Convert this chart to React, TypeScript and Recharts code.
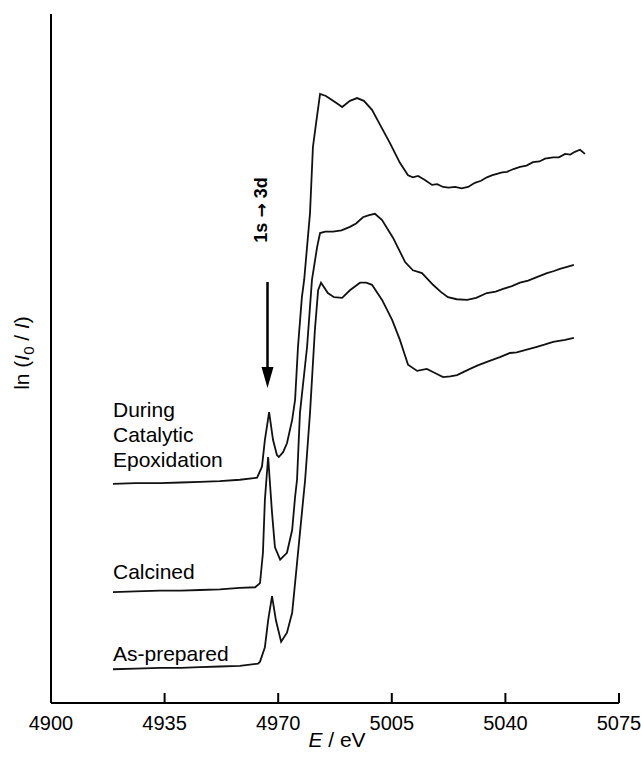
import { LineChart, Line, XAxis, YAxis } from 'recharts';

// [energy (eV), ln(I0/I) offset trace]
const epoxidation: [number, number][] = [
  [4919.1, 3.18], [4926, 3.19], [4933.6, 3.19], [4940, 3.2], [4945.9, 3.21], [4952, 3.22],
  [4958.2, 3.24], [4963.5, 3.27], [4965.0, 3.43], [4965.9, 3.82], [4967.2, 4.22], [4968.4, 3.82],
  [4969.6, 3.6], [4970.2, 3.57], [4971.5, 3.64], [4972.7, 3.77], [4974.3, 4.11], [4975.2, 4.4],
  [4976.1, 5.17], [4977.3, 5.89], [4978.0, 6.14], [4979.8, 7.11], [4980.7, 8.07], [4981.6, 8.39],
  [4982.9, 8.84], [4984.7, 8.81], [4986.9, 8.74], [4988.5, 8.69], [4989.7, 8.65], [4992.1, 8.74],
  [4994.3, 8.78], [4996.4, 8.74], [4998.9, 8.61], [5001.4, 8.39], [5004.4, 8.13], [5007.5, 7.84],
  [5010.0, 7.66], [5011.5, 7.63], [5013.1, 7.65], [5015.2, 7.59], [5017.4, 7.52], [5019, 7.53],
  [5020.8, 7.49], [5022.5, 7.48], [5024.5, 7.49], [5026.5, 7.47], [5028.5, 7.49], [5030.6, 7.55],
  [5032.5, 7.58], [5034.3, 7.63], [5036, 7.66], [5037.4, 7.68], [5039, 7.7], [5040.5, 7.71],
  [5042.5, 7.75], [5044.5, 7.78], [5046.5, 7.8], [5048.5, 7.85], [5050.5, 7.86], [5052.2, 7.9],
  [5054.7, 7.92], [5056.5, 7.92], [5058.4, 7.97], [5060, 7.96], [5061.4, 8.0], [5063.0, 8.03],
  [5064.5, 7.97],
];

const calcined: [number, number][] = [
  [4919.1, 1.61], [4926, 1.62], [4933.6, 1.63], [4940, 1.63], [4945.9, 1.64], [4952, 1.65],
  [4958.2, 1.67], [4962.9, 1.68], [4964.4, 1.74], [4965.3, 2.18], [4965.9, 2.95], [4966.9, 3.57],
  [4968.1, 2.76], [4969.0, 2.26], [4970.6, 2.08], [4972.7, 2.18], [4974.3, 2.51], [4975.2, 2.99],
  [4975.8, 3.24], [4976.7, 4.21], [4978.9, 5.17], [4980.4, 6.14], [4982.0, 6.62], [4982.9, 6.82],
  [4984.5, 6.84], [4986.9, 6.84], [4989.5, 6.86], [4992.1, 6.91], [4994, 6.96], [4996.1, 7.05],
  [4998, 7.08], [4999.8, 7.1], [5002.0, 7.01], [5005.4, 6.75], [5009.1, 6.4], [5011.5, 6.28],
  [5014.3, 6.24], [5017.7, 6.07], [5020, 5.97], [5022.3, 5.89], [5025, 5.86], [5028.2, 5.85],
  [5031, 5.88], [5034.3, 5.95], [5037, 5.97], [5039.3, 6.01], [5042, 6.05], [5044.5, 6.1],
  [5047, 6.13], [5049.1, 6.17], [5052.8, 6.24], [5055, 6.27], [5056.8, 6.3], [5059, 6.33],
  [5061.1, 6.36],
];

const asPrepared: [number, number][] = [
  [4919.1, 0.49], [4926, 0.5], [4933.6, 0.51], [4940, 0.51], [4945.9, 0.52], [4952, 0.53],
  [4958.2, 0.54], [4963.8, 0.57], [4964.4, 0.6], [4965.9, 0.81], [4966.9, 1.2], [4968.1, 1.55],
  [4969.3, 1.2], [4970.9, 0.89], [4972.7, 1.02], [4974.3, 1.31], [4975.8, 2.03], [4977.3, 2.76],
  [4978.3, 3.24], [4979.8, 4.21], [4981.3, 5.41], [4982.3, 5.99], [4983.2, 6.1], [4985.3, 5.95],
  [4987.2, 5.89], [4989.7, 5.88], [4992.1, 5.99], [4995.2, 6.1], [4997.1, 6.1], [4998.9, 6.07],
  [5002.0, 5.85], [5005.1, 5.56], [5007.5, 5.27], [5010.0, 4.91], [5012.8, 4.82], [5015.8, 4.85],
  [5018.3, 4.79], [5020.8, 4.73], [5023, 4.74], [5025.1, 4.76], [5029.1, 4.85], [5031.5, 4.9],
  [5034.3, 4.95], [5038.3, 5.02], [5041.4, 5.08], [5043.5, 5.09], [5046.0, 5.12], [5049.7, 5.17],
  [5052, 5.2], [5054.7, 5.24], [5058.4, 5.27], [5061.1, 5.3],
];

const energyTicks = [4900, 4935, 4970, 5005, 5040, 5075];

const toRows = (pts: [number, number][]) => pts.map(([e, a]) => ({ e, a }));

const FONT = '"Liberation Sans", Arial, sans-serif';
const W = 633;
const H = 741;

function EnergyTick(props: any) {
  const { x, y, payload } = props;
  return (
    <g>
      <line x1={x} y1={y} x2={x} y2={y - 10} stroke="#000" strokeWidth={2} />
      <text x={x} y={y + 27} textAnchor="middle" fontSize={20} fontFamily={FONT} fill="#000">
        {payload.value}
      </text>
    </g>
  );
}

export default function App() {
  return (
    <div style={{ padding: '8px 0 0 8px', width: W + 8, height: H + 8, background: '#fff' }}>
      <style>{'body{margin:0;overflow:hidden} .recharts-surface{overflow:visible}'}</style>
      <div style={{ position: 'relative', width: W, height: H }}>
        <LineChart width={W} height={H} margin={{ top: 6, right: 22, bottom: 0, left: 0 }}>
          <XAxis
            dataKey="e"
            type="number"
            domain={[4900, 5075]}
            ticks={energyTicks}
            allowDataOverflow
            height={46}
            tickSize={0}
            tickMargin={0}
            tickLine={false}
            axisLine={{ stroke: '#000', strokeWidth: 2 }}
            tick={<EnergyTick />}
          />
          <YAxis
            type="number"
            domain={[0, 10]}
            width={43}
            tick={false}
            tickLine={false}
            axisLine={{ stroke: '#000', strokeWidth: 2 }}
          />
          <Line data={toRows(epoxidation)} dataKey="a" type="linear" stroke="#111" strokeWidth={1.8} dot={false} isAnimationActive={false} />
          <Line data={toRows(calcined)} dataKey="a" type="linear" stroke="#111" strokeWidth={1.8} dot={false} isAnimationActive={false} />
          <Line data={toRows(asPrepared)} dataKey="a" type="linear" stroke="#111" strokeWidth={1.8} dot={false} isAnimationActive={false} />
        </LineChart>

        {/* annotations */}
        <svg
          width={W}
          height={H}
          style={{ position: 'absolute', left: 0, top: 0, pointerEvents: 'none', overflow: 'visible' }}
          fontFamily={FONT}
          fill="#000"
        >
          <text x={105} y={409} fontSize={21}>During</text>
          <text x={105} y={434} fontSize={21}>Catalytic</text>
          <text x={105} y={459} fontSize={21}>Epoxidation</text>
          <text x={105} y={571} fontSize={21}>Calcined</text>
          <text x={105} y={653} fontSize={21}>As-prepared</text>

          <line x1={259.5} y1={274} x2={259.5} y2={362} stroke="#000" strokeWidth={2.5} />
          <polygon points="253.5,359 265.5,359 259.5,380" fill="#000" />
          <text
            x={0}
            y={0}
            fontSize={18}
            fontWeight="bold"
            textAnchor="middle"
            transform="translate(259 202) rotate(-90)"
          >
            1s <tspan fontFamily='"DejaVu Sans", sans-serif' fontSize={17}>→</tspan> 3d
          </text>

          <text fontSize={21} textAnchor="middle" transform="translate(21 345) rotate(-90)">
            ln (<tspan fontStyle="italic">I</tspan>
            <tspan fontSize={15} dy={5}>0</tspan>
            <tspan dy={-5}> / </tspan>
            <tspan fontStyle="italic">I</tspan>)
          </text>

          <text x={329} y={739} fontSize={21} textAnchor="middle">
            <tspan fontStyle="italic">E</tspan> / eV
          </text>
        </svg>
      </div>
    </div>
  );
}
